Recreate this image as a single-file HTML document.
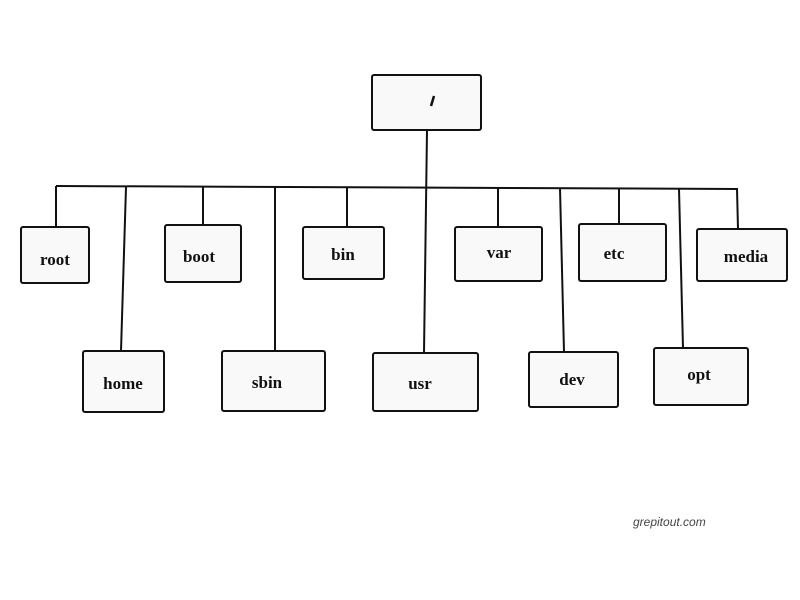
<!DOCTYPE html>
<html><head><style>body{margin:0;background:#fff}</style></head><body>
<svg width="800" height="600" xmlns="http://www.w3.org/2000/svg" style="display:block">
<g stroke="#111" stroke-width="2" fill="none">
<line x1="56" y1="186" x2="738" y2="189"/>
<line x1="56" y1="186" x2="56" y2="227"/>
<line x1="126" y1="187" x2="121" y2="351"/>
<line x1="203" y1="187" x2="203" y2="225"/>
<line x1="275" y1="187" x2="275" y2="351"/>
<line x1="347" y1="187" x2="347" y2="227"/>
<line x1="427" y1="130" x2="424" y2="353"/>
<line x1="498" y1="188" x2="498" y2="227"/>
<line x1="560" y1="188" x2="564" y2="352"/>
<line x1="619" y1="189" x2="619" y2="224"/>
<line x1="679" y1="189" x2="683" y2="348"/>
<line x1="737" y1="189" x2="738" y2="229"/>
</g>
<g stroke="#111" stroke-width="2" fill="#f9f9f9">
<rect x="372" y="75" width="109" height="55" rx="2"/>
<rect x="21" y="227" width="68" height="56" rx="2"/>
<rect x="165" y="225" width="76" height="57" rx="2"/>
<rect x="303" y="227" width="81" height="52" rx="2"/>
<rect x="455" y="227" width="87" height="54" rx="2"/>
<rect x="579" y="224" width="87" height="57" rx="2"/>
<rect x="697" y="229" width="90" height="52" rx="2"/>
<rect x="83" y="351" width="81" height="61" rx="2"/>
<rect x="222" y="351" width="103" height="60" rx="2"/>
<rect x="373" y="353" width="105" height="58" rx="2"/>
<rect x="529" y="352" width="89" height="55" rx="2"/>
<rect x="654" y="348" width="94" height="57" rx="2"/>
</g>
<line x1="434" y1="96" x2="431" y2="106" stroke="#111" stroke-width="2.5"/>
<g font-family="Liberation Serif, serif" font-weight="bold" font-size="17" fill="#111" text-anchor="middle">
<text x="55" y="265">root</text>
<text x="199" y="262">boot</text>
<text x="343" y="260">bin</text>
<text x="499" y="258">var</text>
<text x="614" y="259">etc</text>
<text x="746" y="262">media</text>
<text x="123" y="389">home</text>
<text x="267" y="388">sbin</text>
<text x="420" y="389">usr</text>
<text x="572" y="385">dev</text>
<text x="699" y="380">opt</text>
</g>
<text x="432" y="107" font-family="Liberation Serif, serif" font-weight="bold" font-size="17" fill="none" text-anchor="middle">/</text>
<text x="633" y="526" font-family="Liberation Sans, sans-serif" font-style="italic" font-size="12" fill="#444">grepitout.com</text>
</svg>
</body></html>
